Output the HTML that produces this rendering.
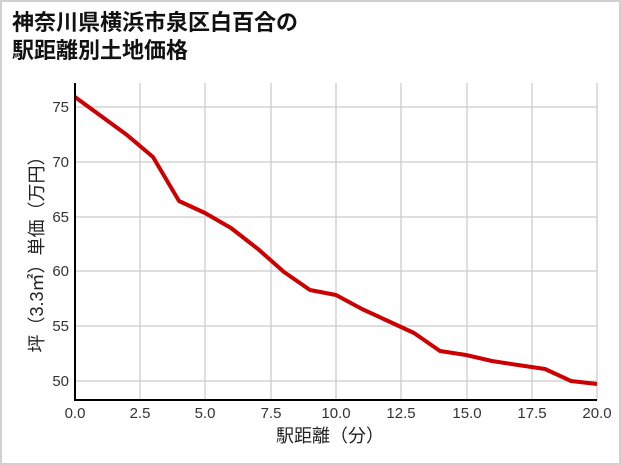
<!DOCTYPE html>
<html><head><meta charset="utf-8"><style>
body{margin:0;background:#fff;}
svg{display:block;font-family:"Liberation Sans","Noto Sans CJK JP",sans-serif;}
</style></head><body>
<svg width="621" height="465" xmlns="http://www.w3.org/2000/svg">
<rect x="1" y="1" width="619" height="463" fill="#fff" stroke="#d0d0d0" stroke-width="2"/>
<text x="12" y="30" font-size="22" font-weight="bold" fill="#111">神奈川県横浜市泉区白百合の</text>
<text x="12" y="58" font-size="22" font-weight="bold" fill="#111">駅距離別土地価格</text>
<g stroke="#cccccc" stroke-width="1.3">
<line x1="75" y1="107" x2="597" y2="107"/>
<line x1="75" y1="162" x2="597" y2="162"/>
<line x1="75" y1="217" x2="597" y2="217"/>
<line x1="75" y1="271" x2="597" y2="271"/>
<line x1="75" y1="326" x2="597" y2="326"/>
<line x1="75" y1="381" x2="597" y2="381"/>
<line x1="140" y1="83" x2="140" y2="400"/>
<line x1="205" y1="83" x2="205" y2="400"/>
<line x1="271" y1="83" x2="271" y2="400"/>
<line x1="336" y1="83" x2="336" y2="400"/>
<line x1="401" y1="83" x2="401" y2="400"/>
<line x1="467" y1="83" x2="467" y2="400"/>
<line x1="532" y1="83" x2="532" y2="400"/>
<line x1="597" y1="83" x2="597" y2="400"/>
</g>
<polyline fill="none" stroke="#cc0000" stroke-width="4" stroke-linejoin="round" points="75,97 101,116 127,135 153,157 179,201 205,213 231,228 258,249 284,272 310,290 336,295 362,309 388,321 414,333 440,351 466,355 492,361 518,365 545,369 571,381 597,384"/>
<polyline fill="none" stroke="#000" stroke-width="2" points="75,83 75,400 597,400"/>
<g font-size="15" fill="#333" text-anchor="end">
<text x="69" y="112">75</text><text x="69" y="167">70</text><text x="69" y="222">65</text>
<text x="69" y="276">60</text><text x="69" y="331">55</text><text x="69" y="386">50</text>
</g>
<g font-size="15" fill="#333" text-anchor="middle">
<text x="75" y="418">0.0</text><text x="140" y="418">2.5</text><text x="205" y="418">5.0</text>
<text x="271" y="418">7.5</text><text x="336" y="418">10.0</text><text x="401" y="418">12.5</text>
<text x="467" y="418">15.0</text><text x="532" y="418">17.5</text><text x="597" y="418">20.0</text>
</g>
<text x="330" y="442" font-size="18" fill="#222" text-anchor="middle">駅距離（分）</text>
<text transform="translate(43,250) rotate(-90)" font-size="18" fill="#222" text-anchor="middle">坪（3.3㎡）単価（万円）</text>
</svg>
</body></html>
